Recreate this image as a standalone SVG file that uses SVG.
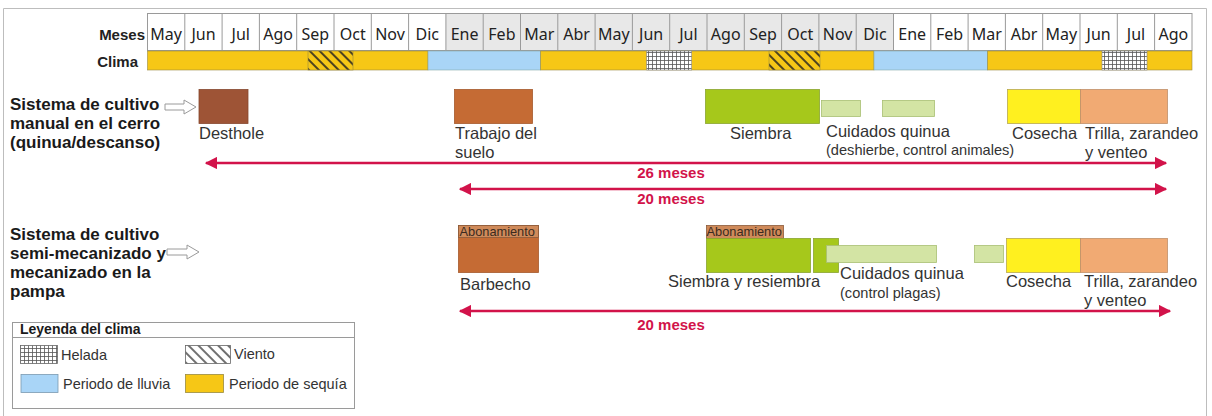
<svg xmlns="http://www.w3.org/2000/svg" width="1212" height="416" viewBox="0 0 1212 416">
<defs>
<style>
.mon{font-family:"Noto Sans","Open Sans",sans-serif;font-size:16px;fill:#222;text-anchor:middle}
.hd{font-family:"Liberation Sans",Arial,sans-serif;font-size:15px;font-weight:bold;fill:#222;text-anchor:end}
.sys{font-family:"Liberation Sans",Arial,sans-serif;font-size:17px;font-weight:bold;fill:#1a1a1a}
.lbl{font-family:"Liberation Sans",Arial,sans-serif;font-size:16.5px;fill:#333}
.sm{font-family:"Liberation Sans",Arial,sans-serif;font-size:14.6px;fill:#333}
.ab{font-family:"Liberation Sans",Arial,sans-serif;font-size:12.8px;fill:#3a2a20}
.dur{font-family:"Liberation Sans",Arial,sans-serif;font-size:15px;font-weight:bold;fill:#D2134A;text-anchor:middle}
.leg{font-family:"Liberation Sans",Arial,sans-serif;font-size:14.5px;fill:#333}
.legt{font-family:"Liberation Sans",Arial,sans-serif;font-size:14px;font-weight:bold;fill:#1a1a1a}
.cell{stroke:#9a9a9a;stroke-width:1}
.dry{fill:#F6C716}
.rain{fill:#A9D5F7}
.red{stroke:#D2134A;stroke-width:2.5;fill:none}
.hollow{fill:#fff;stroke:#9a9a9a;stroke-width:1}
</style>
<pattern id="frost" width="4" height="4" patternUnits="userSpaceOnUse"><rect width="4" height="4" fill="#fff"/><path d="M0 0.5H4M0.5 0V4" stroke="#555" stroke-width="0.8"/></pattern>
<pattern id="wind" width="7" height="7" patternUnits="userSpaceOnUse" patternTransform="rotate(-45)"><rect width="7" height="7" fill="#F6C716"/><line x1="1" y1="0" x2="1" y2="7" stroke="#222" stroke-width="1.6"/></pattern>
<pattern id="windw" width="7" height="7" patternUnits="userSpaceOnUse" patternTransform="rotate(-45)"><rect width="7" height="7" fill="#fff"/><line x1="1" y1="0" x2="1" y2="7" stroke="#222" stroke-width="1.3"/></pattern>
<marker id="ah" viewBox="0 0 10 10" refX="9" refY="5" markerWidth="5" markerHeight="5" orient="auto-start-reverse" markerUnits="strokeWidth"><path d="M0 0L10 5L0 10Z" fill="#D2134A"/></marker>
</defs>
<rect width="1212" height="416" fill="#fff"/>
<path d="M3.5 420V8.5H1206.5V420" fill="none" stroke="#bdbdbd" stroke-width="1"/>

<g id="header">
<text class="hd" x="145" y="40">Meses</text>
<text class="hd" x="138" y="67">Clima</text>
<g id="months">
<rect class="cell" x="147.5" y="13.5" width="1044.5" height="37" fill="#fff"/>
<rect class="cell" x="445.9" y="13.5" width="447.6" height="37" fill="#e8e8e8"/>
<path class="cell" d="M184.8 13.5V50.5M222.1 13.5V50.5M259.4 13.5V50.5M296.7 13.5V50.5M334 13.5V50.5M371.3 13.5V50.5M408.6 13.5V50.5M483.2 13.5V50.5M520.5 13.5V50.5M557.8 13.5V50.5M595.1 13.5V50.5M632.4 13.5V50.5M669.7 13.5V50.5M707 13.5V50.5M744.3 13.5V50.5M781.6 13.5V50.5M818.9 13.5V50.5M856.2 13.5V50.5M930.8 13.5V50.5M968.1 13.5V50.5M1005.4 13.5V50.5M1042.7 13.5V50.5M1080 13.5V50.5M1117.3 13.5V50.5M1154.6 13.5V50.5"/>
<text class="mon" x="166.2" y="40">May</text>
<text class="mon" x="203.5" y="40">Jun</text>
<text class="mon" x="240.8" y="40">Jul</text>
<text class="mon" x="278.1" y="40">Ago</text>
<text class="mon" x="315.4" y="40">Sep</text>
<text class="mon" x="352.7" y="40">Oct</text>
<text class="mon" x="390" y="40">Nov</text>
<text class="mon" x="427.3" y="40">Dic</text>
<text class="mon" x="464.6" y="40">Ene</text>
<text class="mon" x="501.9" y="40">Feb</text>
<text class="mon" x="539.2" y="40">Mar</text>
<text class="mon" x="576.5" y="40">Abr</text>
<text class="mon" x="613.8" y="40">May</text>
<text class="mon" x="651.1" y="40">Jun</text>
<text class="mon" x="688.4" y="40">Jul</text>
<text class="mon" x="725.7" y="40">Ago</text>
<text class="mon" x="763" y="40">Sep</text>
<text class="mon" x="800.3" y="40">Oct</text>
<text class="mon" x="837.6" y="40">Nov</text>
<text class="mon" x="874.9" y="40">Dic</text>
<text class="mon" x="912.2" y="40">Ene</text>
<text class="mon" x="949.5" y="40">Feb</text>
<text class="mon" x="986.8" y="40">Mar</text>
<text class="mon" x="1024.1" y="40">Abr</text>
<text class="mon" x="1061.4" y="40">May</text>
<text class="mon" x="1098.7" y="40">Jun</text>
<text class="mon" x="1136" y="40">Jul</text>
<text class="mon" x="1173.3" y="40">Ago</text>
</g>
<g id="climate" stroke="#9a8a40" stroke-width="0.6">
<rect class="dry" x="147.5" y="51" width="280.5" height="19"/>
<rect x="308" y="51" width="45" height="19" fill="url(#wind)"/>
<rect class="rain" x="428" y="51" width="112.7" height="19" stroke="#8aa"/>
<rect class="dry" x="540.7" y="51" width="333.3" height="19"/>
<rect x="646.7" y="51" width="45" height="19" fill="url(#frost)" stroke="#888"/>
<rect x="769" y="51" width="51" height="19" fill="url(#wind)"/>
<rect class="rain" x="874" y="51" width="113.7" height="19" stroke="#8aa"/>
<rect class="dry" x="987.7" y="51" width="204.3" height="19"/>
<rect x="1102" y="51" width="45" height="19" fill="url(#frost)" stroke="#888"/>
</g>
</g>

<g id="system1">
<text class="sys" x="10" y="110">Sistema de cultivo</text>
<text class="sys" x="10" y="129">manual en el cerro</text>
<text class="sys" x="10" y="148">(quinua/descanso)</text>
<polygon class="hollow" points="165,104 184,104 184,100 196,107 184,114 184,110 165,110"/>
</g>
<g id="desthole">
<rect x="199" y="89.5" width="49" height="34" fill="#9E5436" stroke="#85482e" stroke-width="0.8"/>
<text class="lbl" x="199" y="139">Desthole</text>
</g>
<g id="trabajo">
<rect x="454.5" y="89.5" width="78" height="34" fill="#C56B34" stroke="#a55a2c" stroke-width="0.8"/>
<text class="lbl" x="455" y="139">Trabajo del</text>
<text class="lbl" x="455" y="158">suelo</text>
</g>
<g id="siembra1">
<rect x="705.5" y="89.5" width="114" height="34" fill="#A6C81B" stroke="#8aa530" stroke-width="0.8"/>
<text class="lbl" x="730" y="139">Siembra</text>
</g>
<g id="cuidados1">
<rect x="821.5" y="100.5" width="39" height="16" fill="#D3E4A4" stroke="#a9bf73" stroke-width="0.8"/>
<rect x="882.5" y="100.5" width="52" height="16" fill="#D3E4A4" stroke="#a9bf73" stroke-width="0.8"/>
<text class="lbl" x="826" y="137">Cuidados quinua</text>
<text class="sm" x="826" y="155">(deshierbe, control animales)</text>
</g>
<g id="cosecha1">
<rect x="1007.5" y="89.5" width="73" height="34" fill="#FFF01F" stroke="#b8a850" stroke-width="0.8"/>
<text class="lbl" x="1012" y="139">Cosecha</text>
</g>
<g id="trilla1">
<rect x="1080.5" y="89.5" width="87" height="34" fill="#F1AA73" stroke="#c0906a" stroke-width="0.8"/>
<text class="lbl" x="1085" y="139">Trilla, zarandeo</text>
<text class="lbl" x="1085" y="158">y venteo</text>
</g>

<g id="system2">
<text class="sys" x="10" y="240">Sistema de cultivo</text>
<text class="sys" x="10" y="259">semi-mecanizado y</text>
<text class="sys" x="10" y="278">mecanizado en la</text>
<text class="sys" x="10" y="297">pampa</text>
<polygon class="hollow" points="167,249 187,249 187,245 199,252 187,259 187,255 167,255"/>
</g>
<g id="barbecho">
<rect x="458.5" y="225.5" width="80" height="47" fill="#C56B34" stroke="#a55a2c" stroke-width="0.8"/>
<rect x="458.5" y="225.5" width="80" height="12" fill="#CF8A5A" stroke="#8a5a3a" stroke-width="0.8"/>
<text class="ab" x="459.5" y="236">Abonamiento</text>
<text class="lbl" x="460" y="290">Barbecho</text>
</g>
<g id="siembra2">
<rect x="706.5" y="225.5" width="77" height="13" fill="#CF8A5A" stroke="#8a5a3a" stroke-width="0.8"/>
<text class="ab" x="706.5" y="236">Abonamiento</text>
<rect x="706.5" y="238.5" width="104" height="34" fill="#A6C81B" stroke="#8aa530" stroke-width="0.8"/>
<rect x="813.5" y="238.5" width="25" height="34" fill="#A6C81B" stroke="#8aa530" stroke-width="0.8"/>
<text class="lbl" x="668" y="287">Siembra y resiembra</text>
</g>
<g id="cuidados2">
<rect x="826.5" y="245.5" width="110" height="17" fill="#D3E4A4" stroke="#a9bf73" stroke-width="0.8"/>
<rect x="974.5" y="245.5" width="29" height="17" fill="#D3E4A4" stroke="#a9bf73" stroke-width="0.8"/>
<text class="lbl" x="840" y="279">Cuidados quinua</text>
<text class="sm" x="840" y="298">(control plagas)</text>
</g>
<g id="cosecha2">
<rect x="1006.5" y="238.5" width="74" height="34" fill="#FFF01F" stroke="#b8a850" stroke-width="0.8"/>
<text class="lbl" x="1006" y="287">Cosecha</text>
</g>
<g id="trilla2">
<rect x="1080.5" y="238.5" width="87" height="34" fill="#F1AA73" stroke="#c0906a" stroke-width="0.8"/>
<text class="lbl" x="1084" y="287">Trilla, zarandeo</text>
<text class="lbl" x="1084" y="306">y venteo</text>
</g>

<g id="connectors">
<line class="red" x1="206" y1="163" x2="1166" y2="163" marker-start="url(#ah)" marker-end="url(#ah)"/>
<line class="red" x1="460" y1="189" x2="1166" y2="189" marker-start="url(#ah)" marker-end="url(#ah)"/>
<line class="red" x1="460" y1="311" x2="1170" y2="311" marker-start="url(#ah)" marker-end="url(#ah)"/>
<text class="dur" x="671" y="178">26 meses</text>
<text class="dur" x="671" y="204">20 meses</text>
<text class="dur" x="671" y="330">20 meses</text>
</g>

<g id="legend">
<rect x="12.5" y="322.5" width="342" height="86" fill="#fff" stroke="#9a9a9a" stroke-width="1"/>
<line x1="12.5" y1="337.5" x2="354.5" y2="337.5" stroke="#9a9a9a" stroke-width="1"/>
<text class="legt" x="20" y="334">Leyenda del clima</text>
<rect x="20.5" y="345.5" width="37" height="18" fill="url(#frost)" stroke="#666" stroke-width="0.8"/>
<text class="leg" x="61" y="360">Helada</text>
<rect x="185.5" y="345.5" width="45" height="18" fill="url(#windw)" stroke="#666" stroke-width="0.8"/>
<text class="leg" x="234" y="359">Viento</text>
<rect x="21" y="374.5" width="37" height="18" class="rain" stroke="#7a9ab0" stroke-width="0.8"/>
<text class="leg" x="63" y="389">Periodo de lluvia</text>
<rect x="185.5" y="374.5" width="38" height="18" class="dry" stroke="#9a8a40" stroke-width="0.8"/>
<text class="leg" x="229" y="389">Periodo de sequía</text>
</g>
</svg>
